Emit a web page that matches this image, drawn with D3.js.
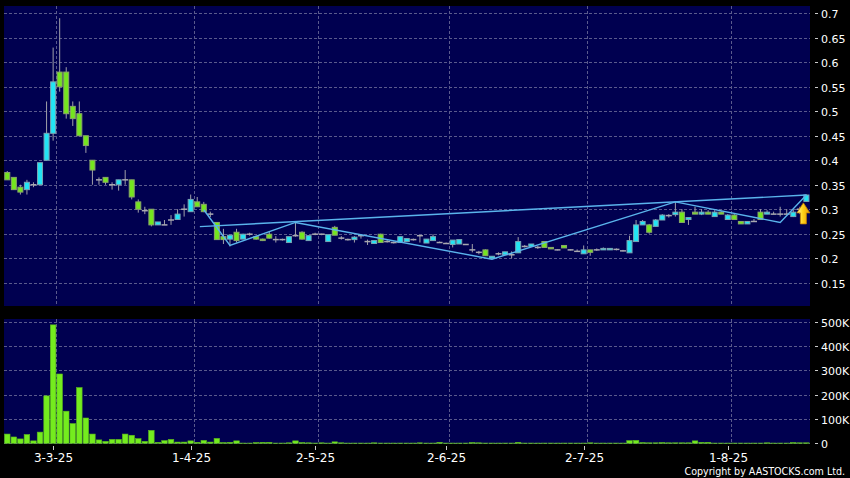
<!DOCTYPE html>
<html><head><meta charset="utf-8">
<script src="https://cdn.jsdelivr.net/npm/d3@7"></script>
<style>html,body{margin:0;padding:0;background:#000;} svg{display:block}</style>
</head><body><svg id="c" width="850" height="478"></svg>
<script>
// ---- categories: HK trading days 20 Feb 2025 .. 19 Aug 2025
const startDate = "2025-02-20", endDate = "2025-08-19";
const holidays = ["2025-04-04","2025-04-18","2025-04-21","2025-05-01","2025-05-05","2025-07-01"];
const dates = [];
for (let d = new Date(startDate+"T00:00:00Z"); d <= new Date(endDate+"T00:00:00Z"); d.setUTCDate(d.getUTCDate()+1)) {
  const wd = d.getUTCDay(), s = d.toISOString().slice(0,10);
  if (wd===0 || wd===6 || holidays.includes(s)) continue;
  dates.push(s);
}
// ---- series values
const open = [
 .375,.365,.345,.34,.35,.35,.40,.455,.58,.58,
 .51,.495,.45,.40,.36,.365,.35,.35,.36,.36,
 .315,.297,.30,.268,.268,.278,.279,.30,.295,.315,
 .31,.29,.273,.244,.239,.253,.239,.249,.244,.239,
 .249,.238,.238,.232,.246,.253,.236,.249,.249,.234,
 .263,.241,.238,.238,.246,.234,.23,.249,.234,.232,
 .232,.234,.238,.246,.231,.236,.232,.23,.228,.229,
 .228,.217,.212,.217,.20,.209,.207,.207,.211,.224,
 .224,.222,.234,.222,.217,.226,.217,.214,.209,.217,
 .217,.217,.217,.218,.215,.211,.234,.268,.268,.265,
 .278,.287,.289,.294,.279,.294,.29,.294,.285,.294,
 .279,.288,.275,.27,.275,.294,.29,.29,.29,.29,
 .285,.30,.316];
const high = [
 .378,.365,.35,.36,.355,.395,.52,.63,.69,.59,
 .52,.52,.45,.40,.365,.365,.355,.36,.38,.36,
 .32,.305,.30,.274,.278,.288,.30,.31,.33,.325,
 .315,.295,.273,.26,.247,.26,.25,.252,.246,.24,
 .255,.245,.24,.244,.273,.255,.246,.252,.25,.248,
 .266,.245,.24,.245,.248,.238,.236,.25,.237,.234,
 .244,.24,.24,.246,.239,.249,.234,.232,.237,.238,
 .229,.229,.215,.218,.204,.212,.213,.214,.243,.227,
 .229,.225,.234,.222,.218,.226,.218,.218,.226,.217,
 .22,.222,.22,.22,.217,.246,.278,.278,.27,.28,
 .29,.29,.315,.30,.283,.305,.30,.298,.298,.296,
 .29,.29,.275,.275,.28,.30,.298,.295,.305,.30,
 .30,.305,.33];
const low = [
 .36,.34,.33,.33,.345,.35,.40,.44,.54,.485,
 .47,.45,.415,.35,.35,.35,.34,.338,.35,.32,
 .293,.29,.265,.268,.268,.268,.279,.285,.295,.305,
 .294,.284,.238,.229,.224,.232,.239,.246,.238,.235,
 .24,.232,.236,.232,.244,.238,.236,.247,.247,.234,
 .247,.238,.236,.232,.24,.227,.23,.232,.232,.23,
 .232,.234,.236,.232,.231,.236,.232,.229,.222,.229,
 .227,.212,.208,.205,.20,.206,.207,.20,.211,.222,
 .224,.219,.222,.219,.216,.221,.216,.213,.209,.205,
 .215,.217,.217,.216,.214,.211,.234,.268,.25,.265,
 .278,.283,.285,.273,.268,.29,.288,.29,.285,.29,
 .279,.279,.27,.27,.275,.279,.29,.29,.285,.29,
 .284,.29,.316];
const close = [
 .36,.34,.335,.355,.35,.395,.455,.56,.55,.495,
 .485,.45,.43,.38,.36,.355,.35,.36,.36,.325,
 .30,.297,.268,.274,.268,.278,.29,.30,.32,.305,
 .295,.29,.238,.238,.247,.236,.249,.249,.239,.236,
 .241,.238,.238,.244,.246,.239,.246,.249,.249,.248,
 .247,.241,.238,.243,.246,.234,.236,.232,.234,.232,
 .244,.24,.238,.246,.239,.244,.232,.23,.237,.238,
 .228,.217,.212,.205,.204,.209,.213,.207,.234,.224,
 .229,.222,.222,.219,.217,.221,.217,.214,.217,.212,
 .217,.22,.22,.218,.215,.236,.268,.275,.253,.278,
 .288,.287,.294,.273,.283,.29,.294,.29,.294,.29,
 .288,.279,.27,.275,.275,.279,.294,.29,.29,.29,
 .294,.30,.329];
const volumeK = [
 38,26,18,36,10,46,195,487,285,132,
 81,229,104,38,14,8,16,16,38,33,
 19,8,53,4,11,16,5,5,10,4,
 12,5,20,3,4,10,1,1,3,4,
 4,1,1,2,10,3,2,1,2,1,
 6,2,1,1,1,1,2,1,1,1,
 1,1,1,2,1,1,4,1,1,1,
 1,3,2,1,1,1,1,1,4,1,
 1,1,1,1,1,1,1,1,1,2,
 1,1,1,1,1,11,12,3,2,2,
 3,2,2,2,2,10,4,4,1,1,
 1,1,1,1,1,1,2,1,1,1,
 3,2,2];
// trend lines: [date index, price]
const zigzag = [[30,0.299],[34,0.226],[44,0.273],[74,0.198],[102,0.315],[118,0.273],[122,0.329]];
const resistance = [[29.4,0.2645],[122,0.329]];
const priceTicks = [0.15,0.2,0.25,0.3,0.35,0.4,0.45,0.5,0.55,0.6,0.65,0.7];
const volumeTicks = [0,100000,200000,300000,400000,500000];
const volumeTickLabels = ["0","100K","200K","300K","400K","500K"];
const monthTickDates = ["2025-03-03","2025-04-01","2025-05-02","2025-06-02","2025-07-02","2025-08-01"];
const monthTickLabels = ["3-3-25","1-4-25","2-5-25","2-6-25","2-7-25","1-8-25"];

// ---- layout
const P = {left:4, right:810, top:6, bottom:306};
const V = {top:319, bottom:444};
const svg = d3.select("#c");
svg.append("rect").attr("width",850).attr("height",478).attr("fill","#000");
const navy = "#000050";
svg.append("rect").attr("x",P.left).attr("y",P.top).attr("width",P.right-P.left).attr("height",P.bottom-P.top).attr("fill",navy);
svg.append("rect").attr("x",P.left).attr("y",V.top).attr("width",P.right-P.left).attr("height",V.bottom-V.top).attr("fill",navy);

const x = d3.scaleBand().domain(dates).range([4.0, 4.0+6.55*dates.length]).padding(0);
const cx = d => x(d) + x.bandwidth()/2;
const cxi = i => 4.0 + 6.55*(i+0.5);
const y = d3.scaleLinear().domain([0.15,0.7]).range([282.7,13.3]);
const yv = d3.scaleLinear().domain([0,500000]).range([443.3,321.7]);

const gridC = "#5a5a8c";
const grid = svg.append("g").attr("stroke",gridC).attr("stroke-width",1).attr("stroke-dasharray","3,2");
priceTicks.forEach(t=>grid.append("line").attr("x1",P.left).attr("x2",P.right).attr("y1",Math.round(y(t))+0.5).attr("y2",Math.round(y(t))+0.5));
volumeTicks.forEach(t=>grid.append("line").attr("x1",P.left).attr("x2",P.right).attr("y1",Math.round(yv(t))+0.5).attr("y2",Math.round(yv(t))+0.5));
monthTickDates.forEach(d=>{
  const gx = Math.round(cx(d)+x.step()/2)+0.5;
  grid.append("line").attr("x1",gx).attr("x2",gx).attr("y1",P.top).attr("y2",P.bottom);
  grid.append("line").attr("x1",gx).attr("x2",gx).attr("y1",V.top).attr("y2",V.bottom);
});

// ---- right axes
const font = "DejaVu Sans, sans-serif";
const axR = svg.append("g");
priceTicks.forEach(t=>{
  const yy = Math.round(y(t))+0.5;
  axR.append("line").attr("x1",815).attr("x2",818).attr("y1",yy).attr("y2",yy).attr("stroke","#ccc");
  axR.append("text").attr("x",821).attr("y",yy+4).attr("fill","#fff").attr("font-family",font).attr("font-size",11).text(String(+t.toFixed(2)));
});
volumeTicks.forEach((t,i)=>{
  const yy = Math.round(yv(t))+0.5;
  axR.append("line").attr("x1",815).attr("x2",818).attr("y1",yy).attr("y2",yy).attr("stroke","#ccc");
  axR.append("text").attr("x",821).attr("y",yy+4).attr("fill","#fff").attr("font-family",font).attr("font-size",11).text(volumeTickLabels[i]);
});
// ---- x axis
monthTickDates.forEach((d,i)=>{
  const xx = Math.round(cx(d))+0.5;
  svg.append("line").attr("x1",xx).attr("x2",xx).attr("y1",446).attr("y2",450).attr("stroke","#ccc");
  svg.append("text").attr("x",xx).attr("y",462).attr("text-anchor","middle").attr("fill","#fff").attr("font-family",font).attr("font-size",12).text(monthTickLabels[i]);
});
svg.append("text").attr("x",845).attr("y",475).attr("text-anchor","end").attr("fill","#fff")
  .attr("font-family","DejaVu Sans Condensed, DejaVu Sans, sans-serif").attr("font-stretch","condensed").attr("font-size",10.6)
  .text("Copyright by AASTOCKS.com Ltd.");

// ---- volume bars
const volG = svg.append("g");
dates.forEach((d,i)=>{
  const v = volumeK[i]*1000, top = yv(v);
  volG.append("rect").attr("x",x(d)+0.5).attr("y",top).attr("width",x.step()-1).attr("height",Math.max(0,yv(0)-top))
    .attr("fill","#74ec1e").attr("stroke","#5cb81c").attr("stroke-width",0.6);
});

// ---- candles
const cG = svg.append("g");
dates.forEach((d,i)=>{
  const c = cx(d), o=open[i], cl=close[i];
  cG.append("line").attr("x1",c).attr("x2",c).attr("y1",y(high[i])).attr("y2",y(low[i])).attr("stroke","#a0a0a8").attr("stroke-width",1);
  if (Math.abs(o-cl) < 1e-9) {
    cG.append("line").attr("x1",c-3).attr("x2",c+3).attr("y1",y(o)).attr("y2",y(o)).attr("stroke","#a8a8b0").attr("stroke-width",1.5);
  } else {
    const up = cl > o;
    const t = y(Math.max(o,cl)), b = y(Math.min(o,cl));
    cG.append("rect").attr("x",c-2.5).attr("y",t).attr("width",5).attr("height",Math.max(1,b-t))
      .attr("fill", up ? "#22e4f4" : "#74e61e").attr("stroke", up ? "#7aa6b4" : "#8aa66a").attr("stroke-width",1);
  }
});

// ---- trend lines
const line = d3.line().x(p=>cxi(p[0])).y(p=>y(p[1]));
svg.append("path").attr("d",line(resistance)).attr("fill","none").attr("stroke","#5ab4ec").attr("stroke-width",1.4);
svg.append("path").attr("d",line(zigzag)).attr("fill","none").attr("stroke","#5ab4ec").attr("stroke-width",1.4);

// ---- signal arrow under last candle
const defs = svg.append("defs");
const gr = defs.append("linearGradient").attr("id","ag").attr("x1",0).attr("x2",1).attr("y1",0).attr("y2",0);
gr.append("stop").attr("offset","0%").attr("stop-color","#fff6a0");
gr.append("stop").attr("offset","45%").attr("stop-color","#ffd21a");
gr.append("stop").attr("offset","100%").attr("stop-color","#e89a00");
const li = dates.length-1;
const ax = cx(dates[li]) - 3, ay = y(low[li]) + 1.5;
const arrowPts = [[0,0],[6.5,10],[3,10],[3,21],[-3,21],[-3,10],[-6.5,10]];
svg.append("path").attr("d","M"+arrowPts.map(p=>[ax+p[0],ay+p[1]].join(",")).join("L")+"Z")
  .attr("fill","url(#ag)").attr("stroke","#c88400").attr("stroke-width",0.8);
</script></body></html>
